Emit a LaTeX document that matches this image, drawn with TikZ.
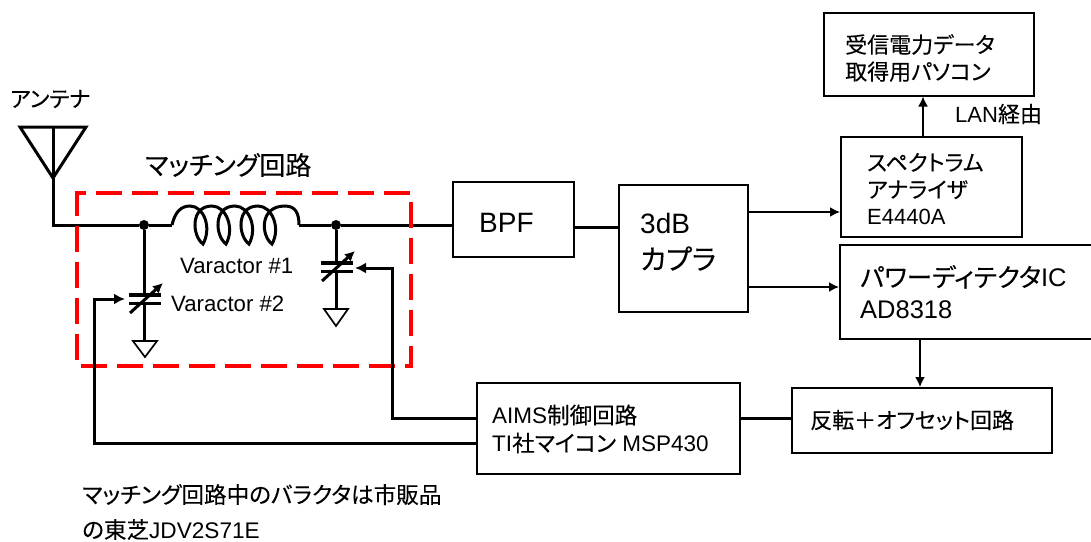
\documentclass[tikz,border=0pt]{standalone}
\usepackage{fontspec}
\setmainfont{Liberation Sans}
\newfontfamily\jpfont[RawFeature=+palt, FakeBold=0.15]{Noto Sans CJK JP}
\newcommand{\jp}[1]{{\jpfont #1}}
\usetikzlibrary{arrows.meta}
\usetikzlibrary{positioning}
\definecolor{matchred}{RGB}{255,0,0}
\tikzset{
    wire/.style={line width=3pt},
    platewire/.style={line width=3.6pt},
    thinwire/.style={line width=1.7pt},
    feedarrow/.style={thinwire, -{Latex[length=10pt, width=10pt]}},
    blockbox/.style={draw, line width=1.5pt, inner sep=0pt, anchor=north west},
    blocklabel/.style={anchor=west, align=left, inner sep=0pt},
    junction/.style={circle, fill, inner sep=0pt, minimum size=10pt},
    groundmark/.style={draw, line width=1.7pt, fill=white, line join=miter}
}
\begin{document}
\begin{tikzpicture}[x=1pt, y=-1pt]
    \useasboundingbox (0,0) rectangle (1091,541);

    % Draw the blocks
    \node[blockbox, minimum width=121pt, minimum height=75pt] (bpf) at (452,181) {};
    \node[blockbox, minimum width=129pt, minimum height=127pt] (coupler) at (618,184) {};
    \node[blockbox, minimum width=210pt, minimum height=83pt] (pc) at (823,12) {};
    \node[blockbox, minimum width=181pt, minimum height=100pt] (analyzer) at (840,136) {};
    \node[blockbox, minimum width=260pt, minimum height=94pt] (detector) at (839,244) {};
    \node[blockbox, minimum width=263pt, minimum height=91pt] (aims) at (476,382) {};
    \node[blockbox, minimum width=260pt, minimum height=65pt] (offset) at (791,387) {};

    % Add labels in the blocks
    \node[blocklabel, font=\fontsize{28}{36}\selectfont] (bpflabel) at (479,223) {BPF};
    \node[blocklabel, font=\fontsize{28}{36}\selectfont] (couplerlabel) at (640,242) {3dB\\\jp{カプラ}};
    \node[blocklabel, font=\fontsize{22}{27}\selectfont] (pclabel) at (845,58) {\jp{受信電力データ}\\\jp{取得用パソコン}};
    \node[blocklabel, font=\fontsize{22}{27}\selectfont] (analyzerlabel) at (867,189) {\jp{スペクトラム}\\\jp{アナライザ}\\E4440A};
    \node[blocklabel, font=\fontsize{25.5}{32}\selectfont] (detectorlabel) at (860,292) {\jp{パワーディテクタ}IC\\AD8318};
    \node[blocklabel, font=\fontsize{22.5}{28}\selectfont] (aimslabel) at (492,429) {AIMS\jp{制御回路}\\TI\jp{社マイコン} MSP430};
    \node[blocklabel, font=\fontsize{22}{26}\selectfont] (offsetlabel) at (810,420) {\jp{反転＋オフセット回路}};

    % Add the free texts
    \node[blocklabel, font=\fontsize{22}{26}\selectfont] (antennalabel) at (10,99) {\jp{アンテナ}};
    \node[blocklabel, font=\fontsize{26}{30}\selectfont] (matchlabel) at (145,165) {\jp{マッチング回路}};
    \node[blocklabel, font=\fontsize{22}{26}\selectfont] (lanlabel) at (955,114) {LAN\jp{経由}};
    \node[blocklabel, font=\fontsize{22.2}{26}\selectfont] (varonelabel) at (180,266) {Varactor \#1};
    \node[blocklabel, font=\fontsize{22.2}{26}\selectfont] (vartwolabel) at (171,304) {Varactor \#2};
    \node[blocklabel, font=\fontsize{22.6}{35}\selectfont] (notelabel) at (82,512) {\jp{マッチング回路中のバラクタは市販品}\\\jp{の東芝}JDV2S71E};

    % Junctions and free ends
    \node[junction] (dotone) at (144,225) {};
    \node[junction] (dottwo) at (336,225) {};
    \coordinate (antfoot) at (53,178);
    \coordinate (anttop) at (53,127);
    \coordinate (coilin) at (172,225);
    \coordinate (coilout) at (299,225);
    \coordinate (gndtwo) at (144,341);
    \coordinate (gndone) at (336,309);
    \coordinate (vartwoin) at (125,299);
    \coordinate (varonein) at (355,268);

    % Antenna
    \draw[wire, line join=miter] (20,127) -- (86,127) -- (antfoot) -- cycle;
    \draw[wire] (anttop) -- (antfoot);

    % Main line
    \draw[wire] (antfoot) |- (dotone) -- (coilin);
    \draw[wire] (coilout) -- (dottwo) -- (bpf.west |- dottwo);
    \draw[wire] (bpf.east |- 0,227) -- (coupler.west |- 0,227);

    % Coil
    \draw[wire] (coilin) .. controls (175,212) and (181,206) .. (190,206)
        .. controls (204,206) and (212,228) .. (203,244)
        \foreach \b in {203,226,249} {
            .. controls (\b-11,236) and (\b-13,206) .. (\b+9,206)
            .. controls (\b+23,206) and (\b+32,228) .. (\b+23,244)
        }
        .. controls (261,236) and (259,206) .. (285,206)
        .. controls (296,206) and (299,214) .. (coilout);

    % Varactors
    \draw[wire] (dotone) -- (gndtwo);
    \draw[wire] (dottwo) -- (gndone);
    \foreach \name/\x/\y in {two/145/295, one/337/263} {
        \fill[white] (\x-16,\y+1) rectangle (\x+16,\y+8);
        \draw[platewire] (\x-16,\y) -- (\x+16,\y);
        \draw[platewire] (\x-16,\y+8.5) -- (\x+16,\y+8.5);
        \draw[wire, -{Latex[length=10pt, width=10pt]}] (\x-15,\y+18) -- (\x+18,\y-12);
    }
    \draw[groundmark] (gndtwo) ++(-11,0) -- ++(24,0) -- ++(-12,16) -- cycle;
    \draw[groundmark] (gndone) ++(-12,0) -- ++(24,0) -- ++(-12,17) -- cycle;

    % Matching box
    \draw[matchred, line width=4pt, dash pattern=on 26pt off 10pt] (77,210) -- (77,193) -- (411,193) -- (411,366) -- (77,366) -- cycle;

    % Signal paths
    \draw[feedarrow] (coupler.east |- 0,212) -- (analyzer.west |- 0,212);
    \draw[feedarrow] (coupler.east |- 0,287) -- (detector.west |- 0,287);
    \draw[feedarrow] (analyzer.north -| 923,0) -- (pc.south -| 923,0);
    \draw[feedarrow] (detector.south -| 920,0) -- (offset.north -| 920,0);

    % Control paths
    \draw[wire] (offset.west |- 0,418) -- (aims.east |- 0,418);
    \draw[wire] (aims.west |- 0,418) -| (392,300);
    \draw[wire, -{Latex[length=11pt, width=11pt]}] (392,300) |- (varonein);
    \draw[wire] (aims.west |- 0,443) -| (94,320);
    \draw[wire, -{Latex[length=11pt, width=11pt]}] (94,320) |- (vartwoin);

\end{tikzpicture}
\end{document}
